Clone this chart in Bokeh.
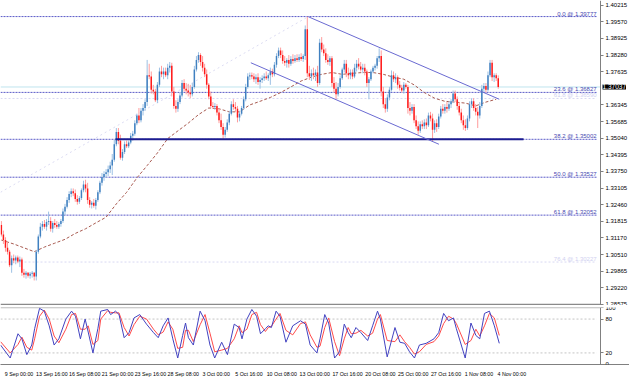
from bokeh.plotting import figure
from bokeh.models import Range1d, FixedTicker, PrintfTickFormatter, Label, ColumnDataSource
from bokeh.layouts import column
from bokeh.embed import file_html
from bokeh.resources import INLINE
from bokeh.core.properties import value

FONT = "Liberation Sans"

# ---------------- data (H4 candles, bar index -1 .. 241) ----------------
first_open = 1.3167
closes = [
    1.3130, 1.3108, 1.3078, 1.3063, 1.3010, 1.3037, 1.3029, 1.3040, 1.3025, 1.3033,
    1.2981, 1.2973, 1.2981, 1.2969, 1.2977, 1.2981, 1.2966, 1.3063, 1.3122, 1.3160,
    1.3171, 1.3160, 1.3178, 1.3182, 1.3152, 1.3175, 1.3167, 1.3160, 1.3171, 1.3182,
    1.3219, 1.3238, 1.3264, 1.3287, 1.3298, 1.3290, 1.3268, 1.3257, 1.3272, 1.3302,
    1.3324, 1.3309, 1.3264, 1.3246, 1.3253, 1.3242, 1.3264, 1.3294, 1.3331, 1.3354,
    1.3365, 1.3372, 1.3384, 1.3398, 1.3421, 1.3481, 1.3529, 1.3495, 1.3428, 1.3451,
    1.3481, 1.3473, 1.3488, 1.3514, 1.3522, 1.3563, 1.3593, 1.3574, 1.3611, 1.3622,
    1.3645, 1.3749, 1.3745, 1.3693, 1.3686, 1.3652, 1.3712, 1.3764, 1.3753, 1.3764,
    1.3749, 1.3779, 1.3786, 1.3686, 1.3630, 1.3619, 1.3645, 1.3671, 1.3719, 1.3697,
    1.3690, 1.3682, 1.3675, 1.3704, 1.3772, 1.3809, 1.3828, 1.3801, 1.3779, 1.3753,
    1.3712, 1.3667, 1.3630, 1.3626, 1.3630, 1.3604, 1.3574, 1.3548, 1.3518, 1.3537,
    1.3566, 1.3600, 1.3637, 1.3626, 1.3619, 1.3585, 1.3600, 1.3622, 1.3656, 1.3704,
    1.3745, 1.3749, 1.3745, 1.3734, 1.3742, 1.3723, 1.3731, 1.3738, 1.3745, 1.3738,
    1.3749, 1.3764, 1.3753, 1.3790, 1.3824, 1.3846, 1.3828, 1.3805, 1.3798, 1.3809,
    1.3794, 1.3813, 1.3805, 1.3816, 1.3809, 1.3820, 1.3813, 1.3824, 1.3928, 1.3757,
    1.3745, 1.3757, 1.3749, 1.3760, 1.3719, 1.3876, 1.3850, 1.3835, 1.3809, 1.3801,
    1.3816, 1.3719, 1.3697, 1.3675, 1.3704, 1.3738, 1.3772, 1.3794, 1.3757, 1.3749,
    1.3760, 1.3745, 1.3779, 1.3794, 1.3783, 1.3772, 1.3779, 1.3764, 1.3719, 1.3734,
    1.3764, 1.3779, 1.3786, 1.3816, 1.3824, 1.3686, 1.3637, 1.3619, 1.3663, 1.3693,
    1.3749, 1.3734, 1.3742, 1.3712, 1.3701, 1.3690, 1.3712, 1.3704, 1.3622, 1.3611,
    1.3626, 1.3574, 1.3551, 1.3533, 1.3559, 1.3551, 1.3566, 1.3555, 1.3593, 1.3581,
    1.3537, 1.3563, 1.3548, 1.3589, 1.3619, 1.3611, 1.3626, 1.3619, 1.3637, 1.3648,
    1.3678, 1.3656, 1.3630, 1.3604, 1.3574, 1.3555, 1.3544, 1.3581, 1.3637, 1.3648,
    1.3622, 1.3607, 1.3593, 1.3630, 1.3697, 1.3708, 1.3693, 1.3749, 1.3798, 1.3742,
    1.3749, 1.3738, 1.37037,
]
highs = [
    1.3182, 1.3145, 1.3119, 1.3100, 1.3070, 1.3048, 1.3052, 1.3048, 1.3048, 1.3044,
    1.3040, 1.2996, 1.2988, 1.2984, 1.2984, 1.2988, 1.2984, 1.3070, 1.3130, 1.3175,
    1.3182, 1.3186, 1.3190, 1.3219, 1.3197, 1.3182, 1.3190, 1.3182, 1.3178, 1.3190,
    1.3231, 1.3249, 1.3275, 1.3298, 1.3309, 1.3309, 1.3305, 1.3283, 1.3279, 1.3309,
    1.3339, 1.3343, 1.3331, 1.3275, 1.3260, 1.3268, 1.3272, 1.3302, 1.3339, 1.3369,
    1.3376, 1.3384, 1.3398, 1.3413, 1.3443, 1.3499, 1.3544, 1.3544, 1.3518, 1.3462,
    1.3492, 1.3495, 1.3495, 1.3525, 1.3533, 1.3574, 1.3600, 1.3622, 1.3622, 1.3637,
    1.3656, 1.3809, 1.3794, 1.3764, 1.3712, 1.3697, 1.3723, 1.3779, 1.3786, 1.3779,
    1.3779, 1.3794, 1.3801, 1.3798, 1.3704, 1.3652, 1.3656, 1.3682, 1.3731, 1.3734,
    1.3719, 1.3716, 1.3712, 1.3719, 1.3786, 1.3824, 1.3839, 1.3835, 1.3824, 1.3794,
    1.3772, 1.3719, 1.3686, 1.3645, 1.3641, 1.3637, 1.3622, 1.3600, 1.3563, 1.3548,
    1.3578, 1.3611, 1.3648, 1.3656, 1.3645, 1.3630, 1.3611, 1.3630, 1.3667, 1.3716,
    1.3757, 1.3760, 1.3760, 1.3757, 1.3753, 1.3757, 1.3742, 1.3749, 1.3757, 1.3764,
    1.3757, 1.3779, 1.3775, 1.3801, 1.3835, 1.3857, 1.3857, 1.3846, 1.3824, 1.3816,
    1.3828, 1.3824, 1.3831, 1.3828, 1.3831, 1.3831, 1.3835, 1.3831, 1.3943, 1.3977,
    1.3786, 1.3772, 1.3779, 1.3772, 1.3786, 1.3891, 1.3898, 1.3869, 1.3854, 1.3831,
    1.3824, 1.3824, 1.3742, 1.3723, 1.3719, 1.3749, 1.3779, 1.3809, 1.3809, 1.3779,
    1.3772, 1.3772, 1.3794, 1.3809, 1.3816, 1.3801, 1.3794, 1.3794, 1.3772, 1.3742,
    1.3772, 1.3786, 1.3794, 1.3824, 1.3854, 1.3846, 1.3704, 1.3660, 1.3675, 1.3704,
    1.3768, 1.3764, 1.3757, 1.3749, 1.3727, 1.3712, 1.3723, 1.3719, 1.3712, 1.3645,
    1.3637, 1.3637, 1.3593, 1.3570, 1.3570, 1.3574, 1.3578, 1.3581, 1.3604, 1.3607,
    1.3600, 1.3574, 1.3578, 1.3600, 1.3630, 1.3637, 1.3637, 1.3645, 1.3648, 1.3656,
    1.3690, 1.3690, 1.3667, 1.3645, 1.3619, 1.3593, 1.3578, 1.3593, 1.3648, 1.3660,
    1.3660, 1.3637, 1.3626, 1.3645, 1.3712, 1.3719, 1.3719, 1.3764, 1.3809, 1.3809,
    1.3757, 1.3757, 1.3749,
]
lows = [
    1.3122, 1.3093, 1.3063, 1.3052, 1.3003, 1.2981, 1.3018, 1.3014, 1.3018, 1.3003,
    1.2969, 1.2962, 1.2958, 1.2962, 1.2958, 1.2962, 1.2951, 1.2951, 1.3055, 1.3115,
    1.3145, 1.3152, 1.3145, 1.3167, 1.3141, 1.3137, 1.3156, 1.3152, 1.3152, 1.3160,
    1.3175, 1.3205, 1.3231, 1.3253, 1.3275, 1.3279, 1.3257, 1.3246, 1.3249, 1.3264,
    1.3294, 1.3294, 1.3249, 1.3234, 1.3231, 1.3234, 1.3227, 1.3257, 1.3287, 1.3320,
    1.3339, 1.3350, 1.3357, 1.3369, 1.3361, 1.3413, 1.3473, 1.3481, 1.3421, 1.3417,
    1.3443, 1.3466, 1.3466, 1.3481, 1.3495, 1.3514, 1.3555, 1.3563, 1.3566, 1.3593,
    1.3611, 1.3630, 1.3734, 1.3678, 1.3675, 1.3645, 1.3641, 1.3704, 1.3742, 1.3734,
    1.3742, 1.3734, 1.3760, 1.3667, 1.3619, 1.3604, 1.3607, 1.3637, 1.3663, 1.3686,
    1.3675, 1.3667, 1.3660, 1.3667, 1.3697, 1.3764, 1.3798, 1.3786, 1.3764, 1.3742,
    1.3697, 1.3656, 1.3622, 1.3619, 1.3615, 1.3593, 1.3563, 1.3537, 1.3503, 1.3507,
    1.3529, 1.3555, 1.3593, 1.3615, 1.3607, 1.3566, 1.3570, 1.3593, 1.3615, 1.3648,
    1.3697, 1.3731, 1.3734, 1.3723, 1.3716, 1.3712, 1.3697, 1.3719, 1.3727, 1.3731,
    1.3727, 1.3712, 1.3742, 1.3745, 1.3779, 1.3816, 1.3816, 1.3794, 1.3786, 1.3779,
    1.3779, 1.3786, 1.3794, 1.3798, 1.3801, 1.3801, 1.3805, 1.3801, 1.3809, 1.3742,
    1.3731, 1.3727, 1.3734, 1.3727, 1.3704, 1.3712, 1.3839, 1.3824, 1.3798, 1.3790,
    1.3786, 1.3704, 1.3682, 1.3656, 1.3667, 1.3697, 1.3731, 1.3760, 1.3742, 1.3734,
    1.3734, 1.3734, 1.3738, 1.3764, 1.3772, 1.3764, 1.3757, 1.3749, 1.3704, 1.3656,
    1.3727, 1.3757, 1.3768, 1.3775, 1.3801, 1.3667, 1.3622, 1.3604, 1.3607, 1.3652,
    1.3686, 1.3723, 1.3719, 1.3697, 1.3690, 1.3682, 1.3678, 1.3697, 1.3600, 1.3593,
    1.3600, 1.3563, 1.3540, 1.3518, 1.3525, 1.3540, 1.3540, 1.3540, 1.3548, 1.3570,
    1.3492, 1.3525, 1.3529, 1.3540, 1.3581, 1.3600, 1.3600, 1.3604, 1.3611, 1.3622,
    1.3641, 1.3645, 1.3615, 1.3593, 1.3563, 1.3537, 1.3533, 1.3537, 1.3570, 1.3622,
    1.3611, 1.3593, 1.3544, 1.3581, 1.3622, 1.3682, 1.3682, 1.3686, 1.3742, 1.3727,
    1.3723, 1.3727, 1.3697,
]

# moving average
ma_bars = [-1, 5, 10, 15, 20, 25, 30, 35, 40, 45, 50, 55, 60, 65, 70, 75, 80, 85, 90, 95,
           100, 105, 110, 115, 120, 125, 130, 135, 140, 145, 150, 155, 160, 165, 170, 175,
           180, 185, 190, 195, 200, 205, 210, 215, 220, 225, 230, 235, 240]
ma_vals = [1.3108, 1.3093, 1.3078, 1.3063, 1.3081, 1.3096, 1.3111, 1.3134, 1.3152, 1.3175,
           1.3197, 1.3249, 1.3294, 1.3350, 1.3398, 1.3447, 1.3503, 1.3533, 1.3563, 1.3596,
           1.3622, 1.3619, 1.3607, 1.3607, 1.3634, 1.3648, 1.3663, 1.3682, 1.3704, 1.3727,
           1.3742, 1.3753, 1.3760, 1.3753, 1.3757, 1.3760, 1.3760, 1.3753, 1.3742, 1.3734,
           1.3712, 1.3682, 1.3660, 1.3648, 1.3645, 1.3641, 1.3630, 1.3645, 1.3656]

# stochastic oscillator
stoch_bars = [-1.4, 3.3, 7.1, 9.0, 11.4, 13.8, 15.2, 17.6, 19.9, 22.3,
              24.7, 27.0, 30.4, 33.2, 35.1, 37.5, 39.8, 41.3, 43.6, 46.0,
              47.4, 50.8, 52.2, 54.6, 56.3, 58.8, 61.2, 63.6, 66.4, 69.7,
              73.1, 75.4, 77.8, 80.2, 82.5, 84.9, 87.3, 88.7, 90.1, 92.5,
              95.8, 98.2, 100.6, 102.9, 106.3, 109.1, 112.4, 114.8, 116.2, 118.6,
              121.0, 123.3, 125.2, 127.6, 129.0, 130.5, 132.8, 134.7, 137.6, 140.9,
              144.7, 147.1, 149.4, 152.7, 154.2, 156.5, 158.4, 161.3, 163.7, 166.0,
              167.9, 169.4, 171.7, 174.1, 177.4, 179.8, 182.2, 183.6, 186.9, 190.7,
              193.1, 195.4, 197.8, 200.2, 202.6, 205.9, 209.7, 212.0, 214.4, 216.8,
              219.2, 220.6, 224.9, 227.7, 230.1, 232.0, 234.3, 236.7, 239.1, 241.5]
stoch_k = [34, 11, 54, 45, 17, 34, 63, 99, 94, 68,
           34, 45, 80, 94, 85, 45, 80, 57, 20, 63,
           94, 97, 88, 94, 88, 47, 56, 82, 88, 71,
           56, 47, 68, 82, 45, 11, 51, 73, 47, 34,
           94, 77, 34, 11, 39, 17, 71, 65, 45, 80,
           97, 85, 54, 63, 68, 65, 94, 85, 39, 68,
           77, 71, 34, 20, 45, 88, 73, 11, 22, 71,
           56, 47, 65, 56, 42, 68, 94, 80, 13, 65,
           39, 37, 22, 11, 34, 37, 45, 56, 90, 77,
           82, 63, 11, 73, 51, 45, 90, 94, 68, 37]
stoch_d = [40, 20, 35, 48, 30, 25, 45, 85, 96, 80,
           50, 38, 62, 88, 90, 62, 62, 68, 35, 42,
           80, 95, 92, 91, 91, 65, 50, 70, 85, 80,
           62, 52, 57, 75, 62, 28, 30, 60, 60, 40,
           70, 88, 55, 22, 25, 28, 45, 68, 56, 62,
           88, 92, 70, 58, 65, 67, 80, 90, 60, 52,
           72, 75, 52, 30, 32, 65, 82, 40, 15, 45,
           65, 54, 55, 60, 50, 55, 80, 88, 42, 40,
           52, 40, 30, 18, 22, 35, 40, 50, 72, 85,
           80, 72, 35, 42, 62, 50, 68, 90, 82, 51]
stoch_levels = [20, 80]
stoch_ticks = [0, 20, 80, 100]

# Fibonacci retracement levels
fib_pcts = [0.0, 23.6, 38.2, 50.0, 61.8]
fib_prices = [1.39777, 1.36827, 1.35002, 1.33527, 1.32052]
faint_pcts = [61.8, 76.4]
faint_prices = [1.36590, 1.30227]

# drawn objects
support_price = 1.3500
support_bars = [54.6, 253.3]
upper_channel_bars = [148.5, 241.5]
upper_channel_prices = [1.3977, 1.3656]
lower_channel_bars = [120.5, 212.1]
lower_channel_prices = [1.3798, 1.3481]
fib_trend_bars = [-1.42, 147.5]
fib_trend_prices = [1.3294, 1.3973]

# axes
price_ticks = [1.28575, 1.29220, 1.29865, 1.30510, 1.31170, 1.31815, 1.32460, 1.33105,
               1.33750, 1.34395, 1.35040, 1.35685, 1.36345, 1.37635, 1.38280, 1.38925,
               1.39570, 1.40215]
time_tick_bars = [0, 16, 32, 48, 64, 80, 96, 112, 128, 144, 160, 176, 192, 208, 224, 240]
time_tick_labels = ["9 Sep 00:00", "13 Sep 16:00", "16 Sep 08:00", "21 Sep 00:00",
                    "23 Sep 16:00", "28 Sep 08:00", "3 Oct 00:00", "5 Oct 16:00",
                    "10 Oct 08:00", "13 Oct 00:00", "17 Oct 16:00", "20 Oct 08:00",
                    "25 Oct 00:00", "27 Oct 16:00", "1 Nov 08:00", "4 Nov 00:00"]

# ---------------- layout constants ----------------
X0, AXIS_X, X1 = -1.42, 290.8, 304.92     # frame spans chart area + price-scale strip
FIB_END = AXIS_X - 1.9
LABEL_SHIFT = 7.6                          # centre of left-anchored time labels (bars)
FRAME_W = 629

# ---------------- build ----------------
n = len(closes)
assert len(highs) == n and len(lows) == n, (n, len(highs), len(lows))
bars = list(range(-1, -1 + n))
opens = [first_open] + closes[:-1]
up = [c >= o for o, c in zip(opens, closes)]
src = ColumnDataSource(dict(
    x=bars, h=highs, l=lows,
    top=[max(o, c) for o, c in zip(opens, closes)],
    bot=[min(o, c) for o, c in zip(opens, closes)],
    bc=["#4080c0" if u else "#ff1a1a" for u in up],
    wc=["#9cc0e4" if u else "#ff9c9c" for u in up],
))

xr = Range1d(X0, X1)
yr = Range1d(1.28536, 1.40402)

p = figure(frame_width=FRAME_W, frame_height=305, x_range=xr, y_range=yr,
           output_backend="svg", toolbar_location=None, x_axis_location=None,
           y_axis_location="right", min_border_left=0, min_border_right=0,
           min_border_top=0, min_border_bottom=0)
p.grid.visible = False
p.outline_line_color = None

ya = p.yaxis[0]
ya.fixed_location = AXIS_X
ya.ticker = FixedTicker(ticks=price_ticks)
ya.formatter = PrintfTickFormatter(format="%.5f")
ya.major_label_text_font_size = "6px"
ya.major_label_text_font = FONT
ya.major_label_text_color = "#000000"
ya.axis_line_color = "#808080"
ya.major_tick_line_color = "#808080"
ya.major_tick_out = 3
ya.major_tick_in = 0
ya.minor_tick_line_color = None
ya.major_label_standoff = 2

# bottom border of the price window
p.segment(x0=[X0], y0=[yr.start + 0.00025], x1=[AXIS_X], y1=[yr.start + 0.00025],
          line_color="#8a8a8a", line_width=2)

# bid line
p.segment(x0=[X0], y0=[closes[-1]], x1=[AXIS_X], y1=[closes[-1]],
          line_color="#bfe4ee", line_width=1, level="underlay")

# faint fib objects
p.segment(x0=[X0] * len(faint_prices), y0=faint_prices,
          x1=[FIB_END] * len(faint_prices), y1=faint_prices,
          line_color="#d8d8f2", line_width=1, line_dash="2 2")
p.text(x=[FIB_END] * len(faint_prices), y=faint_prices,
       text=[f"{a:.1f} @ {b:.5f}" for a, b in zip(faint_pcts, faint_prices)],
       text_align="right", text_baseline="bottom", text_font_size="6px",
       text_font=value(FONT), text_color="#d0d0f0")
p.line(fib_trend_bars, fib_trend_prices, line_color="#dcdcf2", line_width=1, line_dash="2 3")

# main fib levels
p.segment(x0=[X0] * len(fib_prices), y0=fib_prices,
          x1=[FIB_END] * len(fib_prices), y1=fib_prices,
          line_color="#5a5ac8", line_width=1, line_dash="2 1")
p.text(x=[FIB_END] * len(fib_prices), y=fib_prices,
       text=[f"{a:.1f} @ {b:.5f}" for a, b in zip(fib_pcts, fib_prices)],
       text_align="right", text_baseline="bottom", text_font_size="6px",
       text_font=value(FONT), text_color="#4848b0")

# MA
p.line(ma_bars, ma_vals, line_color="#a85a50", line_width=1, line_dash="3 2")

# candles
p.segment("x", "h", "x", "l", source=src, line_color="wc", line_width=1)
p.vbar(x="x", width=0.72, top="top", bottom="bot", source=src, fill_color="bc", line_color=None)

# support + channel
p.line(support_bars, [support_price] * 2, line_color="#1c1c90", line_width=2)
p.line(upper_channel_bars, upper_channel_prices, line_color="#6a6ad2", line_width=1)
p.line(lower_channel_bars, lower_channel_prices, line_color="#6a6ad2", line_width=1)

# current price box on the price scale
p.add_layout(Label(x=AXIS_X, y=closes[-1], x_offset=2, text=f"{closes[-1]:.5f}",
                   text_font_size="6.5px", text_font=FONT, text_color="white",
                   text_baseline="middle", text_align="left",
                   background_fill_color="black", background_fill_alpha=1.0,
                   level="overlay"))

# ---------------- stochastic ----------------
s = figure(frame_width=FRAME_W, frame_height=57, x_range=xr, y_range=Range1d(-0.5, 100.5),
           output_backend="svg", toolbar_location=None, y_axis_location="right",
           min_border_left=0, min_border_right=0, min_border_top=2, min_border_bottom=0)
s.grid.visible = False
s.outline_line_color = None
s.segment(x0=[X0], y0=[100.2], x1=[AXIS_X], y1=[100.2], line_color="#8a8a8a", line_width=1)
s.segment(x0=[X0] * len(stoch_levels), y0=stoch_levels,
          x1=[FIB_END] * len(stoch_levels), y1=stoch_levels,
          line_color="#c4c4c4", line_dash="2 2", line_width=1)
s.line(stoch_bars, stoch_d, line_color="#ff4a4a", line_width=1)
s.line(stoch_bars, stoch_k, line_color="#4242c0", line_width=1)

sy = s.yaxis[0]
sy.fixed_location = AXIS_X
sy.ticker = FixedTicker(ticks=stoch_ticks)
sy.major_label_text_font_size = "6px"
sy.major_label_text_font = FONT
sy.major_label_text_color = "#000000"
sy.axis_line_color = "#808080"
sy.major_tick_line_color = "#808080"
sy.major_tick_out = 3
sy.major_tick_in = 0
sy.minor_tick_line_color = None
sy.major_label_standoff = 2

label_pos = [b + LABEL_SHIFT for b in time_tick_bars]
sx = s.xaxis[0]
sx.ticker = FixedTicker(ticks=label_pos)
sx.major_label_overrides = {b: t for b, t in zip(label_pos, time_tick_labels)}
sx.major_label_text_font_size = "5.3px"
sx.major_label_text_font = FONT
sx.major_label_text_color = "#000000"
sx.axis_line_color = "#808080"
sx.major_tick_line_color = None
sx.major_tick_out = 3
sx.major_tick_in = 0
sx.minor_tick_line_color = None
sx.major_label_standoff = 3

layout = column(p, s, spacing=0)
open("out.html", "w").write(file_html(layout, INLINE))
